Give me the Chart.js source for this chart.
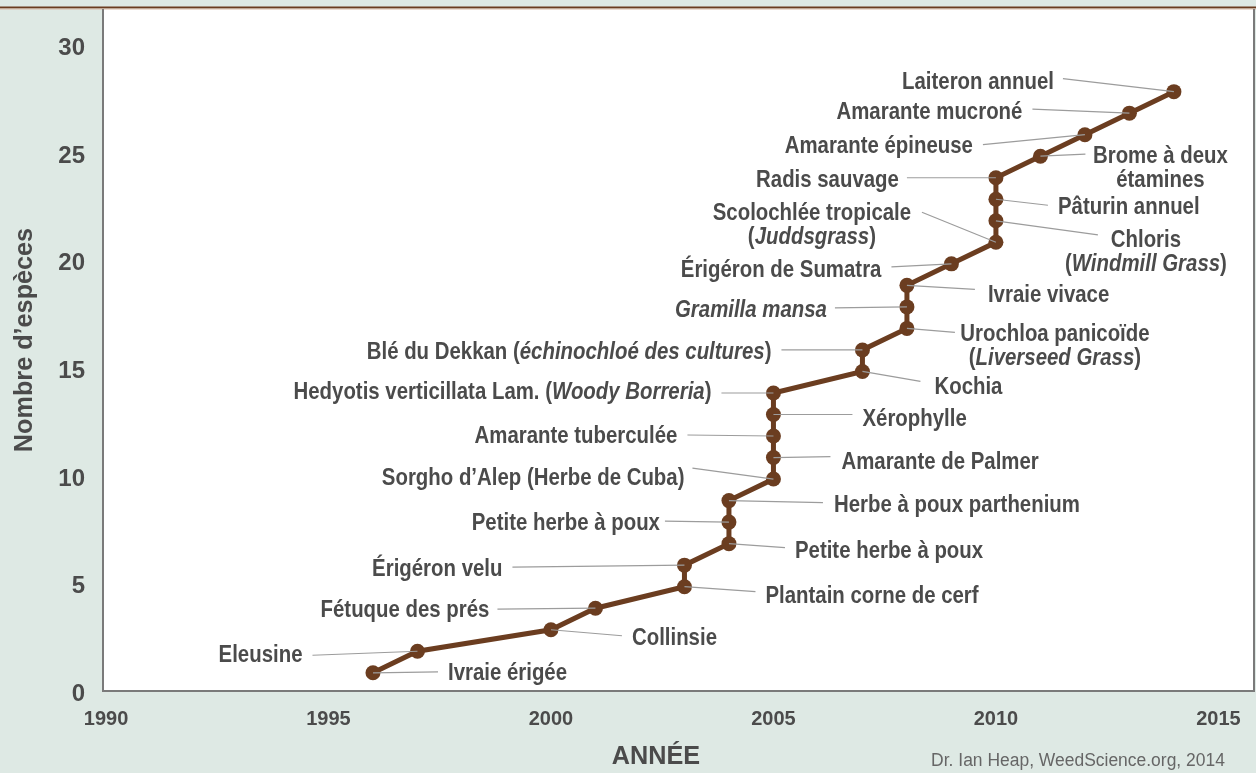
<!DOCTYPE html>
<html>
<head>
<meta charset="utf-8">
<script src="https://cdn.jsdelivr.net/npm/chart.js@4.4.1/dist/chart.umd.min.js"></script>
<style>
  html, body { margin: 0; padding: 0; background: #dee9e4; }
  canvas { display: block; }
</style>
</head>
<body>
<canvas id="chart" width="1256" height="773"></canvas>
<script>
// one point per new resistant species, cumulative count by year
const years = [1996, 1997, 2000, 2001, 2003, 2003, 2004, 2004, 2004, 2005, 2005, 2005, 2005, 2005,
  2007, 2007, 2008, 2008, 2008, 2009, 2010, 2010, 2010, 2010, 2011, 2012, 2013, 2014];
const counts = [1, 2, 3, 4, 5, 6, 7, 8, 9, 10, 11, 12, 13, 14, 15, 16, 17, 18, 19, 20,
  21, 22, 23, 24, 25, 26, 27, 28];
const species = [
  'Ivraie érigée', 'Eleusine', 'Collinsie', 'Fétuque des prés', 'Plantain corne de cerf',
  'Érigéron velu', 'Petite herbe à poux', 'Petite herbe à poux', 'Herbe à poux parthenium',
  'Sorgho d’Alep (Herbe de Cuba)', 'Amarante de Palmer', 'Amarante tuberculée', 'Xérophylle',
  'Hedyotis verticillata Lam. (*Woody Borreria*)', 'Kochia',
  'Blé du Dekkan (*échinochloé des cultures*)', 'Urochloa panicoïde\n(*Liverseed Grass*)',
  '*Gramilla mansa*', 'Ivraie vivace', 'Érigéron de Sumatra', 'Scolochlée tropicale\n(*Juddsgrass*)',
  'Chloris\n(*Windmill Grass*)', 'Pâturin annuel', 'Radis sauvage', 'Brome à deux\nétamines',
  'Amarante épineuse', 'Amarante mucroné', 'Laiteron annuel'
];
const xTicks = [1990, 1995, 2000, 2005, 2010, 2015];
const yTicks = [0, 5, 10, 15, 20, 25, 30];

// label placement: [align, text dx, text dy, leader end dx, leader end dy] relative to the point
const labelPos = [
  ['left', 75, -2, 65, -1], ['right', -115, 2, -105, 4], ['left', 81, 6, 71, 6],
  ['right', -106, 0, -98, 1], ['left', 81, 7, 71, 5], ['right', -182, 2, -172, 2],
  ['left', 66, 5, 56, 4], ['right', -69, -1, -64, -1], ['left', 105, 2, 94, 2],
  ['right', -89, -3, -81, -11], ['left', 68, 2, 57, -1], ['right', -96, -2, -86, -1],
  ['left', 89, 2, 79, 0], ['right', -62, -3, -52, 0], ['left', 72, 13, 58, 10],
  ['right', -91, 0, -81, 0], ['center', 148, 3, 48, 4], ['right', -80, 1, -72, 1],
  ['left', 81, 8, 68, 4], ['right', -70, 4, -60, 3], ['center', -184, -31, -74, -30],
  ['center', 150, 17, 102, 14], ['left', 62, 6, 52, 6], ['right', -97, 0, -89, 0],
  ['center', 120, -2, 45, -2], ['right', -112, 9, -102, 10], ['right', -107, -3, -97, -4],
  ['right', -120, -12, -111, -13]
];

const BG = '#dee9e4';
const BROWN = '#6b3d20';
const TXT = '#4b4b4b';
const FONT = '"Liberation Sans", Arial, sans-serif';

function segments(line) {
  // *text* = italic
  return line.split('*').map((t, i) => ({ t, it: i % 2 === 1 })).filter(s => s.t.length);
}

// narrow text: draw with a horizontal squeeze (y nudged to centre the caps)
function drawRich(ctx, text, x, y, align, size, sx) {
  const lines = text.split('\n');
  lines.forEach((line, li) => {
    const segs = segments(line);
    let w = 0;
    segs.forEach(s => {
      s.font = (s.it ? 'italic ' : '') + 'bold ' + size + 'px ' + FONT;
      ctx.font = s.font;
      s.w = ctx.measureText(s.t).width;
      w += s.w;
    });
    let cx = align === 'right' ? -w : align === 'center' ? -w / 2 : 0;
    ctx.save();
    ctx.translate(x, y + 2.5 + li * 24);
    ctx.scale(sx, 1);
    segs.forEach(s => {
      ctx.font = s.font;
      ctx.fillText(s.t, cx, 0);
      cx += s.w;
    });
    ctx.restore();
  });
}

const decor = {
  id: 'decor',
  beforeDraw(chart) {
    const { ctx, chartArea: a, width, height } = chart;
    ctx.save();
    ctx.fillStyle = BG;
    ctx.fillRect(0, 0, width, height);
    ctx.fillStyle = '#ffffff';
    ctx.fillRect(a.left, a.top, a.right - a.left, a.bottom - a.top);
    ctx.fillStyle = BROWN;
    ctx.fillRect(0, 6.5, width, 2);
    ctx.fillStyle = '#d8bba8';
    ctx.fillRect(0, 8.5, width, 1);
    ctx.restore();
  },
  afterDatasetsDraw(chart) {
    const { ctx, chartArea: a } = chart;
    const xs = chart.scales.x, ys = chart.scales.y;
    ctx.save();
    // frame
    ctx.strokeStyle = '#7a7a7a';
    ctx.lineWidth = 2;
    ctx.beginPath();
    ctx.moveTo(a.left - 1, a.top);
    ctx.lineTo(a.left - 1, a.bottom + 1);
    ctx.lineTo(a.right, a.bottom + 1);
    ctx.lineTo(a.right, a.top);
    ctx.stroke();

    // leader lines and labels
    ctx.strokeStyle = '#9c9c9c';
    ctx.lineWidth = 1.2;
    ctx.fillStyle = TXT;
    ctx.textBaseline = 'middle';
    ctx.textAlign = 'left';
    species.forEach((name, i) => {
      const px = xs.getPixelForValue(years[i]);
      const py = ys.getPixelForValue(counts[i]);
      const [align, tdx, tdy, ldx, ldy] = labelPos[i];
      ctx.beginPath();
      ctx.moveTo(px, py);
      ctx.lineTo(px + ldx, py + ldy);
      ctx.stroke();
      drawRich(ctx, name, px + tdx, py + tdy, align, 24, 0.85);
    });

    // axis titles and source
    drawRich(ctx, 'ANNÉE', 656, 754, 'center', 26, 0.97);
    ctx.save();
    ctx.translate(22, 340);
    ctx.rotate(-Math.PI / 2);
    drawRich(ctx, 'Nombre d’espèces', 0, 0, 'center', 26, 0.97);
    ctx.restore();
    ctx.fillStyle = '#666666';
    ctx.save();
    ctx.translate(1078, 761);
    ctx.scale(0.97, 1);
    ctx.textAlign = 'center';
    ctx.font = '18px ' + FONT;
    ctx.fillText('Dr. Ian Heap, WeedScience.org, 2014', 0, 0);
    ctx.restore();
    ctx.restore();
  }
};

new Chart(document.getElementById('chart'), {
  type: 'line',
  data: {
    datasets: [{
      data: years.map((x, i) => ({ x, y: counts[i] })),
      borderColor: BROWN,
      borderWidth: 5,
      backgroundColor: BROWN,
      pointBackgroundColor: BROWN,
      pointBorderWidth: 0,
      pointRadius: 7.5,
      tension: 0,
      fill: false
    }]
  },
  options: {
    responsive: false,
    animation: false,
    devicePixelRatio: 1,
    events: [],
    layout: { autoPadding: false, padding: { top: 9, right: 2, left: 0, bottom: 0 } },
    plugins: { legend: { display: false }, tooltip: { enabled: false } },
    scales: {
      x: {
        type: 'linear',
        min: 1989.955,
        max: 2015.8,
        afterBuildTicks: s => { s.ticks = xTicks.map(v => ({ value: v })); },
        afterFit: s => { s.height = 83; s.paddingLeft = 0; s.paddingRight = 0; },
        grid: { display: false, drawTicks: false },
        border: { display: false },
        ticks: {
          padding: 17,
          color: TXT,
          autoSkip: false,
          maxRotation: 0,
          callback: v => String(v),
          font: { family: FONT, size: 20, weight: 'bold' }
        }
      },
      y: {
        type: 'linear',
        min: 0.2,
        max: 31.84,
        afterBuildTicks: s => { s.ticks = yTicks.map(v => ({ value: v })); },
        afterFit: s => { s.width = 104; s.paddingTop = 0; s.paddingBottom = 0; },
        grid: { display: false, drawTicks: false },
        border: { display: false },
        ticks: {
          padding: 19,
          color: TXT,
          callback: v => String(v),
          font: { family: FONT, size: 24, weight: 'bold' }
        }
      }
    }
  },
  plugins: [decor]
});
</script>
</body>
</html>
